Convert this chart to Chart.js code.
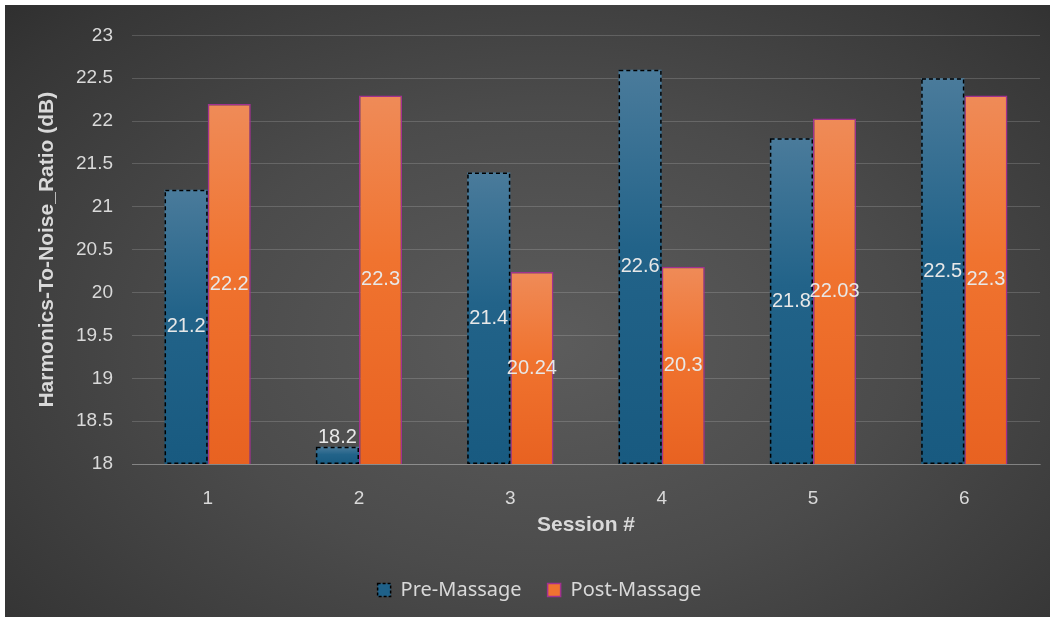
<!DOCTYPE html>
<html>
<head>
<meta charset="utf-8">
<script src="https://cdn.jsdelivr.net/npm/chart.js@4.4.1/dist/chart.umd.min.js"></script>
<style>
    html, body { margin: 0; padding: 0; background: #fff; }
    #wrap {
        position: absolute; left: 5px; top: 5px; width: 1045px; height: 612px;
        background: radial-gradient(ellipse 75% 85% at 52% 55%, #5c5c5c 0%, #4b4b4b 45%, #363636 85%, #2c2c2c 100%);
    }
</style>
</head>
<body>
<div id="wrap"><canvas id="hnr"></canvas></div>
<script>
// sessions and harmonics-to-noise ratio per session (dB)
const sessions = ["1", "2", "3", "4", "5", "6"];
const preMassage = [21.2, 18.2, 21.4, 22.6, 21.8, 22.5];
const postMassage = [22.2, 22.3, 20.24, 20.3, 22.03, 22.3];
const yMin = 18;
const yMax = 23;
const yStep = 0.5;

const tickColor = "#d9d9d9";
const numFont = "'Liberation Sans', Arial, sans-serif";

// vertical gradient running over each bar, lighter at its top
function barGradient(mid, top, bottom) {
    return function (context) {
        const chart = context.chart;
        const y = chart.scales.y;
        if (!y || context.raw === undefined) return bottom;
        const yTop = y.getPixelForValue(context.raw);
        const yBase = y.getPixelForValue(yMin);
        if (!isFinite(yTop) || !isFinite(yBase) || yBase - yTop < 1) return bottom;
        const g = chart.ctx.createLinearGradient(0, yTop, 0, yBase);
        g.addColorStop(0, top);
        g.addColorStop(0.45, mid);
        g.addColorStop(1, bottom);
        return g;
    };
}

// dashed outline for the pre-massage bars and value labels for every bar
const barExtras = {
    id: "barExtras",
    afterLayout(chart) {
        // nudge the legend a little right of the canvas centre
        chart.legend.left += 17;
        chart.legend.right += 17;
    },
    afterDatasetsDraw(chart) {
        const ctx = chart.ctx;
        const yBase = chart.scales.y.getPixelForValue(yMin);
        const pre = chart.getDatasetMeta(0);
        ctx.save();
        ctx.strokeStyle = "#000";
        ctx.lineWidth = 1.5;
        ctx.setLineDash([4, 3]);
        pre.data.forEach(bar => {
            const left = bar.x - bar.width / 2;
            ctx.strokeRect(left + 0.75, bar.y + 0.75, bar.width - 1.5, yBase - bar.y - 1.5);
        });
        ctx.restore();

        ctx.save();
        ctx.font = "20px " + numFont;
        ctx.fillStyle = "#e8e8e8";
        ctx.textAlign = "center";
        chart.data.datasets.forEach((ds, i) => {
            chart.getDatasetMeta(i).data.forEach((bar, j) => {
                const h = yBase - bar.y;
                const text = String(ds.data[j]);
                if (h < 26) {
                    ctx.textBaseline = "bottom";
                    ctx.fillText(text, bar.x, bar.y + 1);
                } else {
                    ctx.textBaseline = "middle";
                    ctx.fillText(text, bar.x, (bar.y + yBase) / 2);
                }
            });
        });
        ctx.restore();
    }
};

const canvas = document.querySelector("#hnr");

let options = {
    type: "bar",
    data: {
        labels: sessions,
        datasets: [
            {
                label: "Pre-Massage",
                data: preMassage,
                backgroundColor: barGradient("#226389", "#4a7b9b", "#185a80"),
                borderWidth: 0,
            },
            {
                label: "Post-Massage",
                data: postMassage,
                backgroundColor: barGradient("#f0732f", "#ef8b58", "#e86221"),
                borderColor: "#a2318f",
                borderWidth: 1.5,
            },
        ],
    },
    options: {
        responsive: true,
        maintainAspectRatio: false,
        animation: false,
        layout: {
            padding: { left: 0, right: 10, top: 25, bottom: 7 },
        },
        datasets: {
            bar: {
                barPercentage: 1,
                categoryPercentage: 0.57,
            },
        },
        scales: {
            y: {
                min: yMin,
                max: yMax,
                ticks: {
                    stepSize: yStep,
                    color: tickColor,
                    padding: 19,
                    font: { family: numFont, size: 19 },
                    callback: v => String(+v.toFixed(1)),
                },
                grid: {
                    color: "rgba(255, 255, 255, 0.16)",
                    drawTicks: false,
                },
                border: { display: false },
                title: {
                    display: true,
                    text: "Harmonics-To-Noise_Ratio (dB)",
                    color: tickColor,
                    font: { family: numFont, size: 21, weight: "bold" },
                    padding: { top: 30, bottom: 0 },
                },
                afterFit(scale) {
                    scale.width = 127;
                },
            },
            x: {
                ticks: {
                    color: tickColor,
                    padding: 23,
                    font: { family: numFont, size: 19 },
                },
                grid: {
                    display: false,
                    drawTicks: false,
                },
                border: { display: true, color: "rgba(255, 255, 255, 0.22)" },
                title: {
                    display: true,
                    text: "Session #",
                    color: tickColor,
                    font: { family: numFont, size: 21, weight: "bold" },
                    padding: { top: 0, bottom: 16 },
                },
                afterFit(scale) {
                    scale.height = 90;
                },
            },
        },
        plugins: {
            title: { display: false },
            tooltip: { enabled: false },
            legend: {
                display: true,
                position: "bottom",
                labels: {
                    color: tickColor,
                    boxWidth: 13,
                    boxHeight: 13,
                    padding: 26,
                    font: { family: "'Noto Sans', sans-serif", size: 20 },
                    generateLabels() {
                        return [
                            { text: "Pre-Massage", fillStyle: "#1f6189", strokeStyle: "#000", lineWidth: 1.5, lineDash: [3, 2], datasetIndex: 0, fontColor: tickColor },
                            { text: "Post-Massage", fillStyle: "#ef7330", strokeStyle: "#a2318f", lineWidth: 1.5, datasetIndex: 1, fontColor: tickColor },
                        ];
                    },
                },
            },
        },
    },
    plugins: [barExtras],
};

const chart = new Chart(canvas.getContext("2d"), options);
</script>
</body>
</html>
